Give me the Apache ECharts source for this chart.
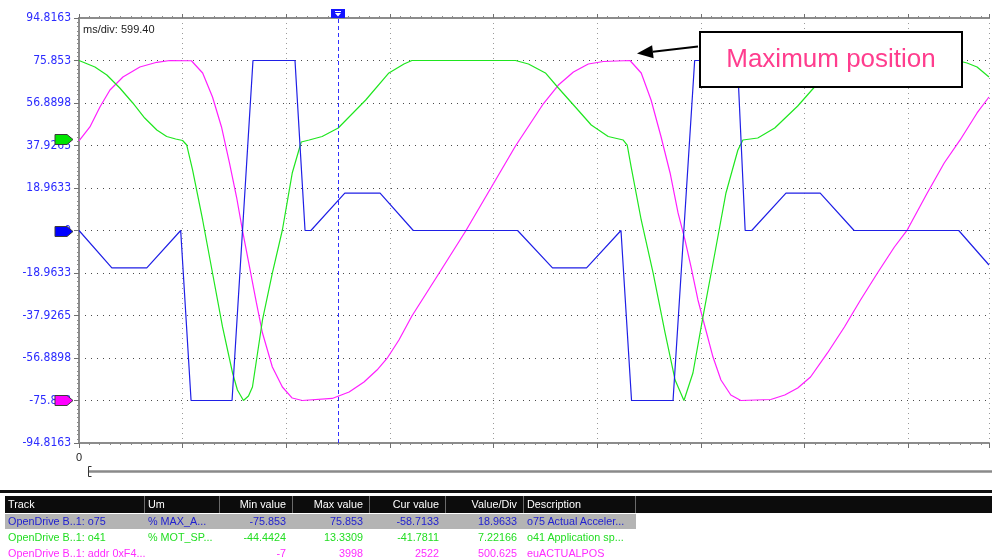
<!DOCTYPE html>
<html>
<head>
<meta charset="utf-8">
<title>OpenDrive trace</title>
<script src="https://cdn.jsdelivr.net/npm/echarts@6/dist/echarts.min.js"></script>
<style>
  html, body { margin: 0; padding: 0; background: #fff; overflow: hidden; }
  #chart { position: absolute; left: 0; top: 0; width: 992px; height: 490px; }
  #tracks { position: absolute; left: 0; top: 488px; width: 992px; height: 72px;
            font-family: "Liberation Sans", Arial, sans-serif; font-size: 10.8px; }
  #tracks .bar { position: absolute; left: 0; top: 2px; width: 992px; height: 3px; background: #111; }
  #tracks .head { position: absolute; left: 5px; top: 8px; width: 987px; height: 17px; background: #0c0c0c; }
  #tracks .sel { position: absolute; left: 5px; top: 26px; width: 631px; height: 15px; background: #b4b4b4; }
  #tracks .cell { position: absolute; white-space: nowrap; line-height: 16px; height: 16px; }
  #tracks .sep { position: absolute; top: 8px; width: 1px; height: 17px; background: #6a6a6a; }
</style>
</head>
<body>
<div id="chart"></div>
<div id="tracks"></div>
<script>
// Time base of the recorder and the visible window
const MS_PER_DIV = 599.40;
const VIEW_END_MS = 5262;
const CURSOR_TIME = 1498.5;

// o75 actual acceleration (% MAX_A)
const accelTime = [0, 190, 392, 588, 648, 885, 1006, 1249, 1307, 1341, 1537, 1741, 1933, 2536, 2738, 2935,
  3134, 3195, 3435, 3560, 3807, 3852, 3890, 4088, 4286, 4482, 5087, 5262];
const accelValue = [0, -16.7, -16.7, 0, -75.853, -75.853, 75.853, 75.853, 0, 0, 16.7, 16.7, 0, 0, -16.7, -16.7,
  0, -75.853, -75.853, 75.853, 75.853, 0, 0, 16.7, 16.7, 0, 0, -15.4];

// o41 application speed (% MOT_SP)
const speedTime = [0, 92, 161, 236, 311, 380, 450, 507, 559, 599, 623, 657, 715, 772, 830, 888, 916, 951, 980, 1003,
  1061, 1118, 1176, 1233, 1285, 1331, 1406, 1499, 1658, 1792, 1879, 1925, 2524, 2599, 2697, 2772, 2870, 2962, 3060, 3147,
  3170, 3193, 3251, 3320, 3389, 3447, 3498, 3550, 3608, 3677, 3741, 3810, 3839, 3925, 4023, 4156, 4253, 4357, 4472, 5078,
  5135, 5193, 5262];
const speedValue = [13.33, 12.23, 10.87, 8.66, 6.11, 3.56, 1.52, 0.42, -0.01, -0.26, -1.03, -5.28, -13.77, -22.78, -31.95,
  -39.77, -42.66, -44.44, -43.68, -42.15, -30.76, -22.78, -15.47, -5.79, -0.52, -0.18, 0.42, 1.86, 6.62, 11.21,
  12.74, 13.33, 13.33, 12.74, 11.21, 8.66, 5.43, 2.37, 0.42, -0.18, -1.03, -4.77, -13.77, -22.78, -32.97, -40.96,
  -44.44, -39.77, -30.25, -19.38, -9.18, -1.88, -0.18, 0.16, 1.86, 5.60, 8.83, 11.38, 13.08, 13.33, 12.91, 12.23, 10.53];

// euACTUALPOS actual position
const posTime = [0, 63, 121, 179, 254, 352, 450, 525, 650, 715, 772, 824, 870, 911, 945, 986, 1026, 1061, 1118, 1176,
  1233, 1291, 1464, 1562, 1648, 1723, 1781, 1850, 1925, 2081, 2236, 2380, 2524, 2686, 2772, 2859, 2945, 3032, 3186, 3251,
  3308, 3366, 3418, 3464, 3504, 3539, 3579, 3620, 3666, 3712, 3769, 3827, 4000, 4081, 4156, 4230, 4328, 4426, 4519, 4617,
  4715, 4789, 4905, 5003, 5095, 5193, 5262];
const posValue = [3050, 3215, 3450, 3651, 3804, 3921, 3977, 3998, 3995, 3851, 3568, 3215, 2791, 2390, 2001, 1566, 1142, 788, 388, 152,
  22, -7, 17, 93, 211, 352, 488, 706, 988, 1489, 1990, 2490, 2991, 3491, 3709, 3863, 3957, 3986, 3998, 3851,
  3533, 3097, 2673, 2202, 1884, 1566, 1177, 859, 505, 235, 58, -7, 5, 58, 140, 270, 553, 859, 1177, 1495,
  1801, 2001, 2437, 2791, 3062, 3380, 3568];

// Left axis tick labels (o75 scale), bottom to top
const yTickLabels = ['-94.8163', '-75.853', '-56.8898', '-37.9265', '-18.9633', '0',
  '18.9633', '37.9265', '56.8898', '75.853', '94.8163'];

// Track list
const headerLabels = ['Track', 'Um', 'Min value', 'Max value', 'Cur value', 'Value/Div', 'Description'];
const trackNames = ['OpenDrive B..1: o75', 'OpenDrive B..1: o41', 'OpenDrive B..1: addr 0xF4...'];
const trackUnits = ['% MAX_A...', '% MOT_SP...', ''];
const minValues = [-75.853, -44.4424, -7];
const maxValues = [75.853, 13.3309, 3998];
const curValues = [-58.7133, -41.7811, 2522];
const valuePerDiv = [18.9633, 7.22166, 500.625];
const descriptions = ['o75 Actual Acceler...', 'o41 Application sp...', 'euACTUALPOS'];

// Annotation pointing at the position maximum
const annotText = 'Maximum position';
const annotTime = 3186;
const annotValue = 3998;

const traceColors = ['#1f1fe6', '#1fe61f', '#ff1fff'];
const markerColors = ['#0000ff', '#00e600', '#ff00ff'];
const textColors = ['#2222d0', '#22dd22', '#ff2bff'];
const narrowFont = '"Liberation Sans Narrow", "Arial Narrow", "DejaVu Sans Condensed", sans-serif';

function pairs(t, v) { return t.map((x, i) => [x, v[i]]); }

// every track spans 10 divisions, its maximum sits 4 divisions above centre
function trackAxis(i) {
  return { min: maxValues[i] - 9 * valuePerDiv[i], max: maxValues[i] + valuePerDiv[i] };
}

const chart = echarts.init(document.getElementById('chart'));
const vpd0 = valuePerDiv[0];
const gridDots = { color: '#4a4a4a', type: [1, 5], width: 1 };

chart.setOption({
  animation: false,
  backgroundColor: '#fff',
  grid: { left: 79, top: 18, right: 0, height: 425, containLabel: false },
  xAxis: [
    {
      type: 'value', position: 'bottom', min: 0, max: VIEW_END_MS, interval: MS_PER_DIV,
      axisLine: { show: true, onZero: false, lineStyle: { color: '#8c8c8c', width: 2 } },
      axisTick: { show: true, length: 5, lineStyle: { color: '#707070' } },
      minorTick: { show: true, splitNumber: 10, length: 2, lineStyle: { color: '#8a8a8a' } },
      axisLabel: { show: true, margin: 9, color: '#222', fontSize: 11, fontFamily: 'Liberation Sans',
        formatter: v => (v === 0 ? '0' : '') },
      splitLine: { show: true, lineStyle: { color: '#9a9a9a', type: [1, 4], width: 1 } }
    },
    {
      type: 'value', position: 'top', min: 0, max: VIEW_END_MS, interval: MS_PER_DIV,
      axisLine: { show: true, onZero: false, lineStyle: { color: '#8c8c8c', width: 2 } },
      axisTick: { show: true, length: 4, lineStyle: { color: '#707070' } },
      minorTick: { show: true, splitNumber: 10, length: 2, lineStyle: { color: '#8a8a8a' } },
      axisLabel: { show: false },
      splitLine: { show: false }
    }
  ],
  yAxis: [
    {
      type: 'value', position: 'left', min: -5 * vpd0, max: 5 * vpd0, interval: vpd0,
      axisLine: { show: true, onZero: false, lineStyle: { color: '#8c8c8c', width: 2 } },
      axisTick: { show: true, length: 5, lineStyle: { color: '#707070' } },
      minorTick: { show: true, splitNumber: 10, length: 2, lineStyle: { color: '#8a8a8a' } },
      axisLabel: { color: '#2b2bff', fontSize: 12, fontFamily: narrowFont, margin: 8,
        formatter: v => yTickLabels[Math.round(v / vpd0) + 5] },
      splitLine: { show: true, lineStyle: gridDots }
    },
    Object.assign({ type: 'value', show: false, splitLine: { show: false } }, trackAxis(1)),
    Object.assign({ type: 'value', show: false, splitLine: { show: false } }, trackAxis(2))
  ],
  series: [
    {
      name: trackNames[2], type: 'line', yAxisIndex: 2, data: pairs(posTime, posValue),
      showSymbol: false, lineStyle: { color: traceColors[2], width: 1.2 }, itemStyle: { color: traceColors[2] }
    },
    {
      name: trackNames[1], type: 'line', yAxisIndex: 1, data: pairs(speedTime, speedValue),
      showSymbol: false, lineStyle: { color: traceColors[1], width: 1.2 }, itemStyle: { color: traceColors[1] }
    },
    {
      name: trackNames[0], type: 'line', yAxisIndex: 0, data: pairs(accelTime, accelValue),
      showSymbol: false, lineStyle: { color: traceColors[0], width: 1.2 }, itemStyle: { color: traceColors[0] },
      markLine: {
        silent: true, symbol: 'none', label: { show: false },
        lineStyle: { color: '#3030ff', type: [4, 3], width: 1 },
        data: [{ xAxis: CURSOR_TIME }]
      }
    }
  ]
});

// Overlay: track zero markers, cursor handle, time base text, scroll bar, annotation
const graphics = [];

for (let i = 0; i < 3; i++) {
  const y = Math.round(chart.convertToPixel({ yAxisIndex: i }, 0)) + 0.5;
  graphics.push({
    type: 'polygon', z: 100,
    shape: { points: [[55, y - 5], [67, y - 5], [73, y], [67, y + 5], [55, y + 5]] },
    style: { fill: markerColors[i], stroke: '#3c3c3c', lineWidth: 1 }
  });
}

const cx = Math.round(chart.convertToPixel({ xAxisIndex: 0 }, CURSOR_TIME));
graphics.push(
  { type: 'rect', z: 100, shape: { x: cx - 7, y: 9, width: 14, height: 9 }, style: { fill: '#1414ff' } },
  { type: 'line', z: 101, shape: { x1: cx - 3, y1: 11.5, x2: cx + 3, y2: 11.5 }, style: { stroke: '#fff', lineWidth: 1 } },
  { type: 'polygon', z: 101, shape: { points: [[cx - 3, 13], [cx + 3, 13], [cx, 16.5]] }, style: { fill: '#fff' } }
);

graphics.push({
  type: 'text', z: 100, left: 83, top: 24,
  style: { text: 'ms/div: ' + MS_PER_DIV.toFixed(2), fill: '#222', font: '11px "Liberation Sans", Arial' }
});

graphics.push(
  { type: 'line', z: 100, shape: { x1: 89, y1: 471.5, x2: 992, y2: 471.5 }, style: { stroke: '#8a8a8a', lineWidth: 2.5 } },
  { type: 'polyline', z: 101, shape: { points: [[91.5, 466.5], [88.5, 466.5], [88.5, 476.5], [91.5, 476.5]] },
    style: { stroke: '#333', lineWidth: 1, fill: null } }
);

const anchor = chart.convertToPixel({ xAxisIndex: 0, yAxisIndex: 2 }, [annotTime, annotValue]);
const tip = [anchor[0] + 7, anchor[1] - 7];
const tail = [698, 46.5];
const dx = tip[0] - tail[0], dy = tip[1] - tail[1];
const len = Math.hypot(dx, dy);
const ux = dx / len, uy = dy / len;
const base = [tip[0] - 16 * ux, tip[1] - 16 * uy];
graphics.push(
  { type: 'line', z: 100, shape: { x1: tail[0], y1: tail[1], x2: base[0], y2: base[1] }, style: { stroke: '#000', lineWidth: 2 } },
  { type: 'polygon', z: 100, shape: { points: [tip, [base[0] - 6.5 * uy, base[1] + 6.5 * ux], [base[0] + 6.5 * uy, base[1] - 6.5 * ux]] },
    style: { fill: '#000' } },
  { type: 'rect', z: 100, shape: { x: 700, y: 32, width: 262, height: 55 }, style: { fill: '#fff', stroke: '#000', lineWidth: 2 } },
  { type: 'text', z: 101, x: 831, y: 60,
    style: { text: annotText, fill: '#ff3d8e', font: '26px "Liberation Sans", Arial', align: 'center', verticalAlign: 'middle' } }
);

chart.setOption({ graphic: graphics });

// Track table below the plot
const cols = [
  { x: 5, w: 140, align: 'left' },
  { x: 145, w: 75, align: 'left' },
  { x: 220, w: 73, align: 'right' },
  { x: 293, w: 77, align: 'right' },
  { x: 370, w: 76, align: 'right' },
  { x: 446, w: 78, align: 'right' },
  { x: 524, w: 112, align: 'left' }
];
const box = document.getElementById('tracks');
let html = '<div class="bar"></div><div class="head"></div><div class="sel"></div>';
cols.forEach(c => { html += '<div class="sep" style="left:' + (c.x + c.w - 1) + 'px"></div>'; });

function cell(c, top, text, color) {
  const pad = c.align === 'left' ? 'padding-left:3px;' : 'padding-right:4px;';
  return '<div class="cell" style="left:' + c.x + 'px;top:' + top + 'px;width:' + (c.w - 7) + 'px;' + pad +
    'text-align:' + c.align + ';color:' + color + '">' + text + '</div>';
}
headerLabels.forEach((h, j) => { html += cell(cols[j], 8, h, '#fff'); });
for (let i = 0; i < 3; i++) {
  const top = 25 + i * 16;
  const row = [trackNames[i], trackUnits[i], String(minValues[i]), String(maxValues[i]),
    String(curValues[i]), String(valuePerDiv[i]), descriptions[i]];
  row.forEach((t, j) => { html += cell(cols[j], top, t, textColors[i]); });
}
box.innerHTML = html;
</script>
</body>
</html>
